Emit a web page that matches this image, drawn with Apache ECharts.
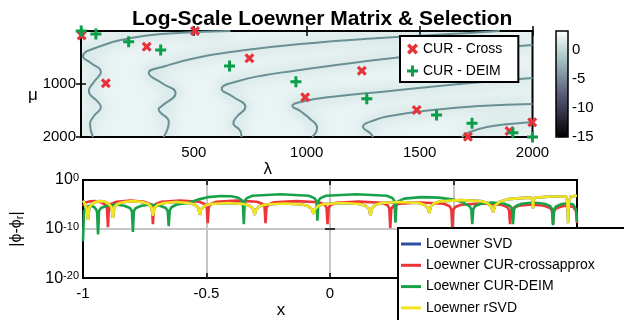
<!DOCTYPE html>
<html><head><meta charset="utf-8">
<script src="https://cdn.jsdelivr.net/npm/echarts@6/dist/echarts.min.js"></script>
<style>html,body{margin:0;padding:0;background:#fff}#c{width:624px;height:320px}</style>
</head><body><div id="c"></div>
<script>
const FONT = "'Liberation Sans', Arial, Helvetica, sans-serif";

// ---------- top panel: Loewner matrix (log scale) ----------
const titleText = 'Log-Scale Loewner Matrix & Selection';
const lambdaRange = [0, 2000];
const muRange = [0, 2000];
const colorbarRange = [-15, 3.3];
const boneColors = ['#000000','#1c1c27','#38384d','#545474','#6f7a8f','#8ba1ab','#a7c7c7','#d3e3e3','#ffffff'];

// selected (lambda, mu) index pairs
const crossSel = [[3,85],[291,296],[505,0],[110,987],[746,515],[993,1251],[1244,749],[1487,1491],[1714,1995],[1898,1887],[1999,1723]];
const deimSel = [[1,1],[66,57],[211,202],[353,358],[658,660],[952,957],[1266,1277],[1575,1585],[1732,1742],[1913,1919],[2000,2000]];

// dark ridges (near-zero entries), as (lambda, mu)
const ridge1 = [[662,0],[353,57],[199,151],[88,283],[9,480],[44,604],[88,774],[57,962],[35,1132],[75,1340],[88,1434],[57,1604],[40,1755],[53,2000]];
const ridge2 = [[1854,0],[1722,38],[1325,132],[971,245],[698,377],[508,509],[375,660],[300,793],[358,981],[419,1170],[358,1415],[344,1472],[389,1717],[366,2000]];
const ridge3 = [[2000,264],[1589,415],[1236,585],[940,755],[817,830],[698,944],[623,1094],[675,1245],[728,1434],[689,1623],[675,1736],[706,1887],[711,2000]];
const ridge4 = [[2000,887],[1678,1000],[1369,1132],[1104,1245],[993,1321],[936,1415],[971,1510],[1015,1660],[1046,1830],[1024,2000]];
const ridge5 = [[2000,1377],[1766,1415],[1558,1491],[1369,1604],[1302,1679],[1249,1812],[1280,1925],[1294,2000]];
const ridge6 = [[2000,1717],[1898,1755],[1797,1812],[1722,1906],[1687,2000]];
const ridgeList = [ridge1, ridge2, ridge3, ridge4, ridge5, ridge6];

// ---------- bottom panel: pointwise error |phi - phi_r| (log10 values) ----------
const errNames = ['Loewner SVD','Loewner CUR-crossapprox','Loewner CUR-DEIM','Loewner rSVD'];
const errColors = ['#2d4fa3','#ee3437','#17a24a','#f2e51e'];
const redLog10 = [
 [-1,-5.3],[-0.99,-4.6],[-0.97,-4.35],[-0.95,-4.3],[-0.93,-4.5],[-0.911,-5.0],[-0.903,-5.6],[-0.899,-9.6],
 [-0.895,-5.5],[-0.887,-4.9],[-0.864,-4.45],[-0.808,-4.2],[-0.752,-4.45],[-0.729,-4.9],[-0.721,-5.5],[-0.717,-9.0],
 [-0.713,-5.5],[-0.705,-4.9],[-0.682,-4.45],[-0.606,-4.2],[-0.53,-4.45],[-0.507,-4.9],[-0.499,-5.5],[-0.495,-8.8],
 [-0.491,-5.5],[-0.483,-4.9],[-0.46,-4.45],[-0.378,-4.2],[-0.296,-4.45],[-0.273,-4.9],[-0.265,-5.5],[-0.261,-8.8],
 [-0.257,-5.6],[-0.249,-5.0],[-0.226,-4.55],[-0.135,-4.3],[-0.045,-4.55],[-0.022,-5.0],[-0.014,-5.6],[-0.01,-9.0],
 [-0.006,-5.7],[0.002,-5.1],[0.025,-4.65],[0.117,-4.4],[0.209,-4.65],[0.232,-5.1],[0.24,-5.7],[0.244,-9.8],
 [0.248,-5.9],[0.256,-5.3],[0.279,-4.85],[0.37,-4.6],[0.46,-4.85],[0.483,-5.3],[0.491,-5.9],[0.495,-9.6],
 [0.499,-6.1],[0.507,-5.5],[0.53,-5.05],[0.612,-4.8],[0.694,-5.05],[0.717,-5.5],[0.725,-6.1],[0.729,-9.0],
 [0.733,-6.3],[0.741,-5.7],[0.764,-5.25],[0.816,-5.0],[0.868,-5.25],[0.891,-5.7],[0.899,-6.3],[0.903,-9.0],
 [0.907,-6.4],[0.915,-5.8],[0.94,-5.35],[0.965,-5.25],[0.985,-5.5],[0.996,-6.3],[1,-8.8]
];
const greenLog10 = [
 [-1,-12.5],[-0.996,-6.4],[-0.988,-5.6],[-0.97,-5.2],[-0.955,-5.5],[-0.947,-6.0],[-0.943,-6.6],[-0.939,-11.1],
 [-0.935,-6.3],[-0.927,-5.7],[-0.904,-5.25],[-0.868,-5.0],[-0.833,-5.25],[-0.81,-5.7],[-0.802,-6.3],[-0.798,-10.6],
 [-0.794,-6.3],[-0.786,-5.7],[-0.763,-5.25],[-0.725,-5.0],[-0.688,-5.25],[-0.665,-5.7],[-0.657,-6.3],[-0.653,-9.4],
 [-0.649,-6.2],[-0.641,-5.5],[-0.62,-5.0],[-0.576,-4.7],[-0.535,-4.0],[-0.495,-3.5],[-0.44,-3.25],[-0.4,-3.3],[-0.375,-3.55],[-0.36,-4.0],[-0.353,-4.6],[-0.349,-9.0],
 [-0.345,-4.3],[-0.337,-3.7],[-0.314,-3.2],[-0.2,-2.9],[-0.086,-3.2],[-0.063,-3.7],[-0.055,-4.3],[-0.051,-8.3],
 [-0.047,-4.3],[-0.039,-3.7],[-0.016,-3.2],[0.107,-2.9],[0.23,-3.2],[0.253,-3.7],[0.261,-4.3],[0.265,-8.7],
 [0.269,-5.0],[0.277,-4.3],[0.3,-3.8],[0.37,-3.5],[0.44,-3.6],[0.5,-4.0],[0.54,-4.6],[0.566,-5.4],[0.572,-6.0],[0.576,-9.0],
 [0.58,-5.9],[0.588,-5.3],[0.611,-4.85],[0.658,-4.6],[0.706,-4.85],[0.729,-5.3],[0.737,-5.9],[0.741,-9.0],
 [0.745,-5.9],[0.753,-5.3],[0.776,-4.85],[0.822,-4.6],[0.868,-4.85],[0.891,-5.3],[0.899,-5.9],[0.903,-9.2],
 [0.907,-6.0],[0.915,-5.4],[0.938,-4.9],[0.962,-4.75],[0.985,-5.0],[0.996,-6.0],[1,-8.5]
];
const yellowLog10 = [
 [-1,-4.2],[-0.992,-4.9],[-0.986,-5.7],[-0.98,-8.1],
 [-0.974,-5.5],[-0.962,-4.8],[-0.945,-4.4],[-0.93,-4.3],[-0.912,-4.4],[-0.897,-4.8],[-0.885,-5.5],[-0.879,-7.7],
 [-0.873,-5.5],[-0.859,-4.85],[-0.834,-4.5],[-0.798,-4.3],[-0.762,-4.5],[-0.737,-4.85],[-0.723,-5.5],[-0.717,-7.3],
 [-0.711,-5.7],[-0.697,-5.05],[-0.672,-4.7],[-0.622,-4.5],[-0.572,-4.7],[-0.547,-5.05],[-0.533,-5.7],[-0.527,-7.1],
 [-0.521,-5.9],[-0.507,-5.25],[-0.482,-4.9],[-0.416,-4.7],[-0.35,-4.9],[-0.325,-5.25],[-0.311,-5.9],[-0.305,-7.1],
 [-0.299,-6.0],[-0.285,-5.35],[-0.26,-5.0],[-0.186,-4.8],[-0.112,-5.0],[-0.087,-5.35],[-0.073,-6.0],[-0.067,-6.9],
 [-0.061,-5.9],[-0.047,-5.25],[-0.022,-4.9],[0.05,-4.7],[0.119,-4.9],[0.144,-5.25],[0.158,-5.9],[0.164,-7.3],
 [0.17,-5.7],[0.184,-5.05],[0.209,-4.7],[0.283,-4.5],[0.357,-4.7],[0.382,-5.05],[0.396,-5.7],[0.402,-6.7],
 [0.408,-5.4],[0.422,-4.75],[0.447,-4.35],[0.53,-4.1],[0.61,-4.3],[0.637,-4.7],[0.652,-5.4],[0.661,-6.5],
 [0.668,-5.2],[0.685,-4.5],[0.72,-3.9],[0.77,-3.7],[0.815,-3.6],[0.82,-4.2],[0.822,-5.8],[0.824,-4.2],[0.83,-3.6],
 [0.9,-3.35],[0.955,-3.35],[0.961,-4.5],[0.964,-8.8],[0.967,-4.5],[0.975,-3.35],[1,-3.2]
];
// the SVD curve is hidden below the rSVD curve in the figure
const svdLog10 = yellowLog10;
const errSets = [svdLog10, redLog10, greenLog10, yellowLog10];

const toValues = arr => arr.map(p => [p[0], Math.pow(10, p[1])]);

const plusPath = 'path://M4,0H7V4H11V7H7V11H4V7H0V4H4Z';
const crossPath = 'path://M0,2.7L2.7,0L6,3.3L9.3,0L12,2.7L8.7,6L12,9.3L9.3,12L6,8.7L2.7,12L0,9.3L3.3,6Z';

const tickStyle = {show: true, inside: true, length: 5, lineStyle: {color: '#000', width: 1.5}};
const lblStyle = {color: '#000', fontSize: 15, fontFamily: FONT, formatter: v => String(v)};

const series = [];
ridgeList.forEach((r, i) => series.push({
  type: 'line', name: 'ridge' + i, xAxisIndex: 0, yAxisIndex: 0, data: r,
  smooth: 0.5, symbol: 'none', silent: true, z: 1,
  lineStyle: {color: '#6a9094', width: 2, shadowBlur: 14, shadowColor: 'rgba(90,155,155,0.7)'}
}));
series.push({
  type: 'scatter', name: 'CUR - Cross', xAxisIndex: 0, yAxisIndex: 0, data: crossSel,
  symbol: crossPath, symbolSize: 10, clip: false, z: 5, itemStyle: {color: '#e8323a', opacity: 1}
});
series.push({
  type: 'scatter', name: 'CUR - DEIM', xAxisIndex: 0, yAxisIndex: 0, data: deimSel,
  symbol: plusPath, symbolSize: 11, clip: false, z: 5, itemStyle: {color: '#0a9e4a', opacity: 1}
});
errSets.forEach((d, i) => series.push({
  type: 'line', name: errNames[i], xAxisIndex: 2, yAxisIndex: 2, data: toValues(d),
  symbol: 'none', showSymbol: false, z: 3 + i, clip: true,
  lineStyle: {color: errColors[i], width: 2.6}, itemStyle: {color: errColors[i]}
}));

const option = {
  animation: false,
  backgroundColor: '#fff',
  textStyle: {fontFamily: FONT},
  title: {text: titleText, left: 127, top: 4,
    textStyle: {fontSize: 21, fontWeight: 'bold', color: '#000', fontFamily: FONT}},
  graphic: [
    {type: 'text', left: 28, top: 87, style: {text: 'μ', fontSize: 17, fontFamily: FONT, fill: '#000'}}
  ],
  grid: [
    {left: 81, top: 31, width: 451.5, height: 106, show: true, backgroundColor: '#ebf4f4', borderColor: '#000', borderWidth: 2},
    {left: 82, top: 180, width: 495, height: 104, show: true, backgroundColor: '#fff', borderColor: '#000', borderWidth: 2},
    {left: 556, top: 31, width: 12, height: 106, show: true, backgroundColor: 'transparent', borderColor: '#000', borderWidth: 1.5, z: 10}
  ],
  visualMap: {
    type: 'continuous', seriesIndex: [], min: colorbarRange[0], max: colorbarRange[1],
    left: 556, top: 31, itemWidth: 12, itemHeight: 106, padding: 0, calculable: false,
    inRange: {color: boneColors}, text: null
  },
  legend: [
    {data: ['CUR - Cross', 'CUR - DEIM'], orient: 'vertical', left: 400, top: 36,
     itemWidth: 11, itemHeight: 11, itemGap: 6, padding: [5, 16, 3, 7],
     backgroundColor: '#fff', borderColor: '#000', borderWidth: 2,
     textStyle: {fontSize: 14, color: '#000', fontFamily: FONT, lineHeight: 16}},
    {data: errNames, orient: 'vertical', left: 398, top: 228, height: 120, icon: 'rect',
     itemWidth: 20, itemHeight: 3, itemGap: 5.3, padding: [8, 40, 12, 3],
     backgroundColor: '#fff', borderColor: '#000', borderWidth: 2,
     textStyle: {fontSize: 14, color: '#000', fontFamily: FONT, lineHeight: 16}}
  ],
  xAxis: [
    {gridIndex: 0, type: 'value', min: lambdaRange[0], max: lambdaRange[1], interval: 500, position: 'bottom',
     axisLine: {show: false}, axisTick: tickStyle, splitLine: {show: false},
     axisLabel: Object.assign({margin: 8, showMinLabel: false}, lblStyle),
     name: 'λ', nameLocation: 'middle', nameGap: 20,
     nameTextStyle: {fontSize: 17, color: '#000', fontFamily: FONT, padding: [0, 78, 0, 0]}},
    {gridIndex: 0, type: 'value', min: lambdaRange[0], max: lambdaRange[1], interval: 500, position: 'top',
     axisLine: {show: false}, axisTick: tickStyle, axisLabel: {show: false}, splitLine: {show: false}},
    {gridIndex: 1, type: 'value', min: -1, max: 1, interval: 0.5, position: 'bottom',
     axisLine: {show: false}, axisTick: tickStyle,
     splitLine: {show: true, showMinLine: false, showMaxLine: false, lineStyle: {color: '#c6c6c6', width: 2}},
     axisLabel: Object.assign({margin: 8}, lblStyle),
     name: 'x', nameLocation: 'middle', nameGap: 16,
     nameTextStyle: {fontSize: 17, color: '#000', fontFamily: FONT, padding: [0, 98, 0, 0]}},
    {gridIndex: 1, type: 'value', min: -1, max: 1, interval: 0.5, position: 'top',
     axisLine: {show: false}, axisTick: tickStyle, axisLabel: {show: false}, splitLine: {show: false}},
    {gridIndex: 2, type: 'value', min: 0, max: 1, show: false}
  ],
  yAxis: [
    {gridIndex: 0, type: 'value', min: muRange[0], max: muRange[1], interval: 1000, inverse: true, position: 'left',
     axisLine: {show: false}, axisTick: tickStyle, splitLine: {show: false},
     axisLabel: Object.assign({margin: 5, showMinLabel: false}, lblStyle)},
    {gridIndex: 0, type: 'value', min: muRange[0], max: muRange[1], interval: 1000, inverse: true, position: 'right',
     axisLine: {show: false}, axisTick: tickStyle, axisLabel: {show: false}, splitLine: {show: false}},
    {gridIndex: 1, type: 'log', logBase: 10, min: 1e-20, max: 1, interval: 10, position: 'left',
     axisLine: {show: false}, axisTick: tickStyle, minorTick: {show: false},
     splitLine: {show: true, showMinLine: false, showMaxLine: false, lineStyle: {color: '#c6c6c6', width: 2}},
     axisLabel: {margin: 4, color: '#000', fontFamily: FONT,
       formatter: v => '{b|10}{s|' + Math.round(Math.log10(v)) + '}',
       rich: {b: {fontSize: 16, lineHeight: 16, verticalAlign: 'bottom', fontFamily: FONT, color: '#000'},
              s: {fontSize: 11, lineHeight: 11, verticalAlign: 'top', padding: [0, 0, 6, 0], fontFamily: FONT, color: '#000'}}},
     name: '|{i|ϕ}-{i|ϕ}{r|r}|', nameLocation: 'middle', nameGap: 58,
     nameTextStyle: {fontSize: 16, color: '#000', fontFamily: FONT,
       rich: {i: {fontSize: 16, lineHeight: 16, verticalAlign: 'top', fontFamily: FONT},
              r: {fontSize: 11, lineHeight: 11, verticalAlign: 'bottom', padding: [6, 0, 0, 0], fontFamily: FONT}}}},
    {gridIndex: 1, type: 'log', logBase: 10, min: 1e-20, max: 1, interval: 10, position: 'right',
     axisLine: {show: false}, axisTick: tickStyle, axisLabel: {show: false}, splitLine: {show: false}, minorTick: {show: false}},
    {gridIndex: 2, type: 'value', min: colorbarRange[0], max: colorbarRange[1], interval: 5, position: 'right',
     axisLine: {show: false}, axisTick: {show: false}, splitLine: {show: false},
     axisLabel: Object.assign({margin: 4, showMaxLabel: false}, lblStyle)}
  ],
  series: series
};

const chart = echarts.init(document.getElementById('c'), null, {renderer: 'canvas'});
chart.setOption(option);
</script>
</body></html>
